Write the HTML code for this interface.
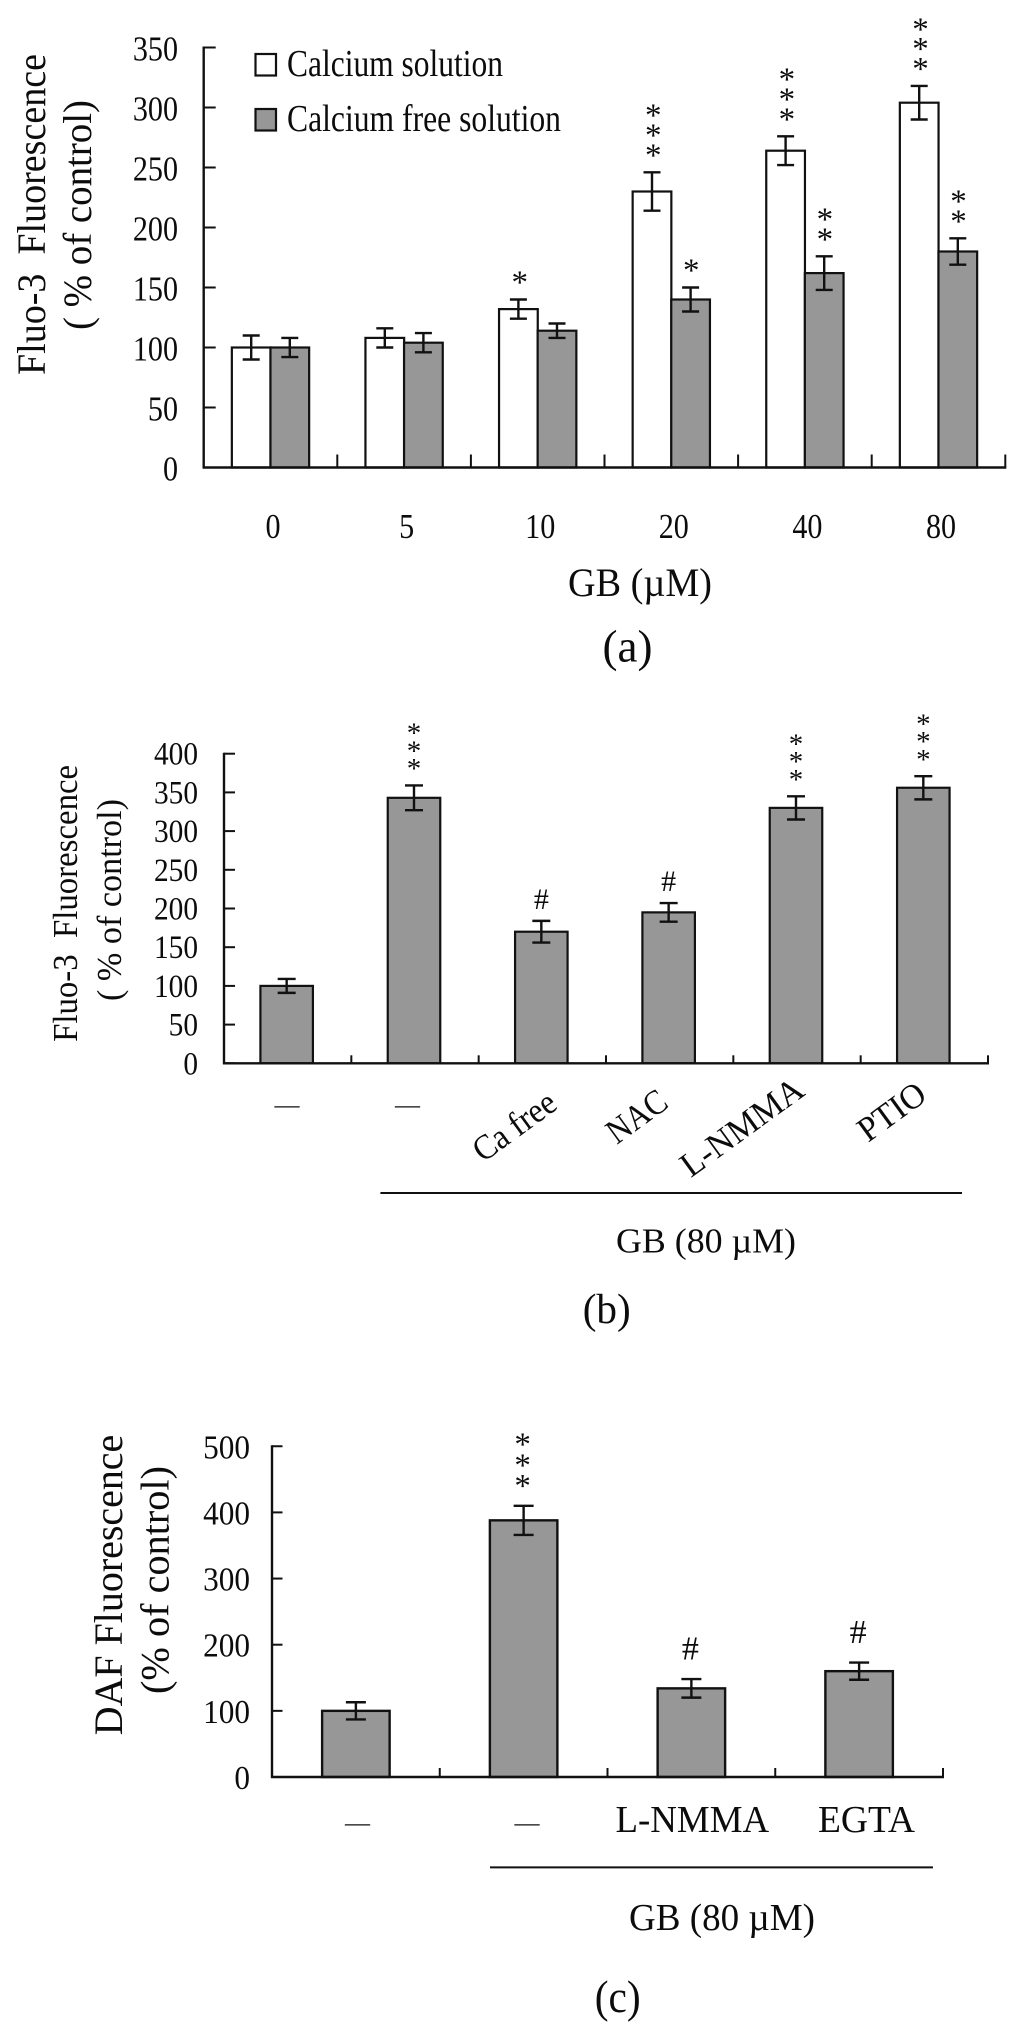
<!DOCTYPE html>
<html lang="en">
<head>
<meta charset="utf-8">
<title>Fluo-3 and DAF fluorescence bar charts</title>
<style>
html,body{margin:0;padding:0;background:#fff;width:1024px;height:2040px;overflow:hidden}
svg{display:block}
text{font-family:"Liberation Serif","Times New Roman",serif;fill:#0c0c0c}
</style>
</head>
<body>
<svg id="figure" xmlns="http://www.w3.org/2000/svg" width="1024" height="2040" viewBox="0 0 1024 2040">
  <rect x="0" y="0" width="1024" height="2040" fill="#fff"/>

  <g id="panel-a">
    <text transform="translate(45,214.5) rotate(-90)" text-anchor="middle" font-size="40" textLength="321" lengthAdjust="spacingAndGlyphs">Fluo-3&#160; Fluorescence</text>
    <text transform="translate(91,215) rotate(-90)" text-anchor="middle" font-size="40" textLength="230" lengthAdjust="spacingAndGlyphs">( % of control)</text>
    <rect x="255.5" y="54" width="20.5" height="21.5" fill="#fff" stroke="#111" stroke-width="2.2"/>
    <text x="287" y="76" font-size="38" textLength="216" lengthAdjust="spacingAndGlyphs">Calcium solution</text>
    <rect x="255.5" y="109" width="20.5" height="21.5" fill="#979797" stroke="#111" stroke-width="2.2"/>
    <text x="287" y="131" font-size="38" textLength="274" lengthAdjust="spacingAndGlyphs">Calcium free solution</text>
    <text x="640" y="596" text-anchor="middle" font-size="40" textLength="144" lengthAdjust="spacingAndGlyphs">GB (µM)</text>
    <text x="627.5" y="661.5" text-anchor="middle" font-size="46" textLength="50" lengthAdjust="spacingAndGlyphs">(a)</text>
  </g>

  <g id="panel-b">
    <text transform="translate(77,903.4) rotate(-90)" text-anchor="middle" font-size="35" textLength="277" lengthAdjust="spacingAndGlyphs">Fluo-3&#160; Fluorescence</text>
    <text transform="translate(121,900) rotate(-90)" text-anchor="middle" font-size="35" textLength="202" lengthAdjust="spacingAndGlyphs">( % of control)</text>
    <text x="287" y="1113" text-anchor="middle" font-size="25">—</text>
    <text x="407.5" y="1113" text-anchor="middle" font-size="25">—</text>
    <text transform="translate(483,1163) rotate(-36)" font-size="35" textLength="94" lengthAdjust="spacingAndGlyphs">Ca free</text>
    <text transform="translate(616.7,1145) rotate(-36)" font-size="35" textLength="66" lengthAdjust="spacingAndGlyphs">NAC</text>
    <text transform="translate(690.7,1178.3) rotate(-36)" font-size="35" textLength="143" lengthAdjust="spacingAndGlyphs">L-NMMA</text>
    <text transform="translate(868,1143) rotate(-36)" font-size="35" textLength="75" lengthAdjust="spacingAndGlyphs">PTIO</text>
    <line x1="380.4" x2="962" y1="1193" y2="1193" stroke="#111" stroke-width="2"/>
    <text x="706" y="1252.7" text-anchor="middle" font-size="35" textLength="180" lengthAdjust="spacingAndGlyphs">GB (80 µM)</text>
    <text x="606.7" y="1323" text-anchor="middle" font-size="42" textLength="48" lengthAdjust="spacingAndGlyphs">(b)</text>
  </g>

  <g id="panel-c">
    <text transform="translate(122,1585) rotate(-90)" text-anchor="middle" font-size="40" textLength="300.5" lengthAdjust="spacingAndGlyphs">DAF Fluorescence</text>
    <text transform="translate(168.6,1580) rotate(-90)" text-anchor="middle" font-size="40" textLength="228" lengthAdjust="spacingAndGlyphs">(% of control)</text>
    <text x="357.5" y="1831" text-anchor="middle" font-size="25">—</text>
    <text x="527" y="1831" text-anchor="middle" font-size="25">—</text>
    <text x="692.3" y="1832" text-anchor="middle" font-size="38" textLength="153.6" lengthAdjust="spacingAndGlyphs">L-NMMA</text>
    <text x="866.5" y="1832" text-anchor="middle" font-size="38" textLength="97" lengthAdjust="spacingAndGlyphs">EGTA</text>
    <line x1="490" x2="933" y1="1867.4" y2="1867.4" stroke="#111" stroke-width="2"/>
    <text x="722" y="1930" text-anchor="middle" font-size="38" textLength="186" lengthAdjust="spacingAndGlyphs">GB (80 µM)</text>
    <text x="617.7" y="2012" text-anchor="middle" font-size="46" textLength="46" lengthAdjust="spacingAndGlyphs">(c)</text>
  </g>
</svg>

<script>
// Panel (a) data
const aCategories = ['0', '5', '10', '20', '40', '80'];
const aCalcium = [100, 108, 132, 230, 264, 304];
const aCalciumErr = [10, 8, 8, 16, 12, 14];
const aCalciumFree = [100, 104, 114, 140, 162, 180];
const aCalciumFreeErr = [8, 8, 6, 10, 14, 11];
const aCalciumMarks = ['', '', '*', '***', '***', '***'];
const aCalciumFreeMarks = ['', '', '', '*', '**', '**'];
const aTicks = [0, 50, 100, 150, 200, 250, 300, 350];

// Panel (b) data
const bCategories = ['none', 'gb', 'ca-free', 'nac', 'l-nmma', 'ptio'];
const bValues = [100, 343, 170, 195, 330, 356];
const bErr = [9, 16, 14, 12, 15, 15];
const bMarks = ['', '***', '#', '#', '***', '***'];
const bTicks = [0, 50, 100, 150, 200, 250, 300, 350, 400];

// Panel (c) data
const cCategories = ['none', 'gb', 'l-nmma', 'egta'];
const cValues = [100, 388, 134, 160];
const cErr = [13, 22, 14, 13];
const cMarks = ['', '***', '#', '#'];
const cTicks = [0, 100, 200, 300, 400, 500];

const NS = 'http://www.w3.org/2000/svg';
const INK = '#111';
const GRAY = '#979797';

function make(parent, tag, props) {
  const el = document.createElementNS(NS, tag);
  for (const k in props) el.setAttribute(k, props[k]);
  parent.appendChild(el);
  return el;
}

// Axis functions
const yA = v => 467.5 - v * 1.2;
const yB = v => 1063.3 - v * 0.774;
const yC = v => 1777 - v * 0.6615;
const bandA = i => 203.7 + (i + 0.5) * 133.6;
const bandB = i => 224 + (i + 0.5) * 127.33;
const bandC = i => 272 + (i + 0.5) * 167.75;

function drawBar(parent, name, cx, width, value, err, fill, yScale, capW, sw) {
  const bar = make(parent, 'rect', {
    x: cx - width / 2, y: yScale(value), width: width,
    height: yScale(0) - yScale(value), fill: fill, stroke: INK, 'stroke-width': sw
  });
  
  

  const eb = make(parent, 'path', {
    d: 'M' + (cx - capW / 2) + ' ' + yScale(value + err) + 'H' + (cx + capW / 2) +
       'M' + cx + ' ' + yScale(value + err) + 'V' + yScale(value - err) +
       'M' + (cx - capW / 2) + ' ' + yScale(value - err) + 'H' + (cx + capW / 2),
    fill: 'none', stroke: INK, 'stroke-width': 2.4
  });
  
  
}

function drawMarks(parent, name, cx, top, marks, size, gap, spacing, hashSize, hashGap) {
  if (marks === '#') {
    const h = make(parent, 'text', {
      x: cx, y: top - hashGap + hashSize * 0.33, 'text-anchor': 'middle', 'font-size': hashSize
    });
    h.textContent = '#';
    
    
    return;
  }
  for (let k = 0; k < marks.length; k++) {
    const s = make(parent, 'text', {
      x: cx, y: top - gap - k * spacing + size * 0.47, 'text-anchor': 'middle', 'font-size': size
    });
    s.textContent = '*';
    
    
  }
}

function drawAxes(parent, prefix, left, right, yScale, ticks, groups, tickIn, tickUp, fontSize, sx, labelRight, baseShift) {
  const yAxis = make(parent, 'line', {
    x1: left, x2: left, y1: yScale(ticks[ticks.length - 1]) - 1, y2: yScale(0) + 1,
    stroke: INK, 'stroke-width': 2.4
  });
  
  

  const xAxis = make(parent, 'line', {
    x1: left - 1, x2: right + 1, y1: yScale(0), y2: yScale(0), stroke: INK, 'stroke-width': 2.4
  });
  
  

  ticks.forEach(function (t) {
    const tl = make(parent, 'line', {
      x1: left, x2: left + tickIn, y1: yScale(t), y2: yScale(t), stroke: INK, 'stroke-width': 2
    });
    
    

    const lab = make(parent, 'text', {
      transform: 'translate(' + labelRight + ',' + (yScale(t) + baseShift) + ') scale(' + sx + ',1)',
      'text-anchor': 'end', 'font-size': fontSize
    });
    lab.textContent = String(t);
    
    
  });

  const step = (right - left) / groups;
  for (let i = 1; i <= groups; i++) {
    const tx = make(parent, 'line', {
      x1: left + i * step, x2: left + i * step, y1: yScale(0), y2: yScale(0) - tickUp,
      stroke: INK, 'stroke-width': 2
    });
    
    
  }
}

// ---------- Panel (a)
const panelA = document.getElementById('panel-a');
aCategories.forEach(function (cat, i) {
  const cx = bandA(i);
  drawBar(panelA, 'calcium-' + cat, cx - 19.3, 38.7, aCalcium[i], aCalciumErr[i], '#fff', yA, 17, 2.2);
  drawBar(panelA, 'calcium-free-' + cat, cx + 19.3, 38.7, aCalciumFree[i], aCalciumFreeErr[i], GRAY, yA, 17, 2.2);
  drawMarks(panelA, 'calcium-' + cat, cx - 18, yA(aCalcium[i] + aCalciumErr[i]), aCalciumMarks[i], 33, 22, 19.8);
  drawMarks(panelA, 'calcium-free-' + cat, cx + 20, yA(aCalciumFree[i] + aCalciumFreeErr[i]), aCalciumFreeMarks[i], 33, 22, 19.8);
  const lab = make(panelA, 'text', {
    transform: 'translate(' + (cx + 2.5) + ',538) scale(0.86,1)', 'text-anchor': 'middle', 'font-size': 35
  });
  lab.textContent = cat;
  
  
});
drawAxes(panelA, 'panel-a', 203.7, 1005.3, yA, aTicks, aCategories.length, 12, 13, 35, 0.86, 178, 13);

// ---------- Panel (b)
const panelB = document.getElementById('panel-b');
bCategories.forEach(function (cat, i) {
  const cx = bandB(i) - 1;
  drawBar(panelB, 'b-' + cat, cx, 52.5, bValues[i], bErr[i], GRAY, yB, 18, 2.2);
  drawMarks(panelB, 'b-' + cat, cx, yB(bValues[i] + bErr[i]), bMarks[i], 29, 21, 17.7, 30, 22);
});
drawAxes(panelB, 'panel-b', 224, 988, yB, bTicks, bCategories.length, 11, 8, 33, 0.89, 198, 11);

// ---------- Panel (c)
const panelC = document.getElementById('panel-c');
cCategories.forEach(function (cat, i) {
  const cx = bandC(i);
  drawBar(panelC, 'c-' + cat, cx, 67.5, cValues[i], cErr[i], GRAY, yC, 20, 2.4);
  drawMarks(panelC, 'c-' + cat, cx - 1, yC(cValues[i] + cErr[i]), cMarks[i], 33, 24.6, 20.8, 34, 31);
});
drawAxes(panelC, 'panel-c', 272, 943, yC, cTicks, cCategories.length, 10.5, 9, 34, 0.92, 250, 12);
</script>
</body>
</html>
